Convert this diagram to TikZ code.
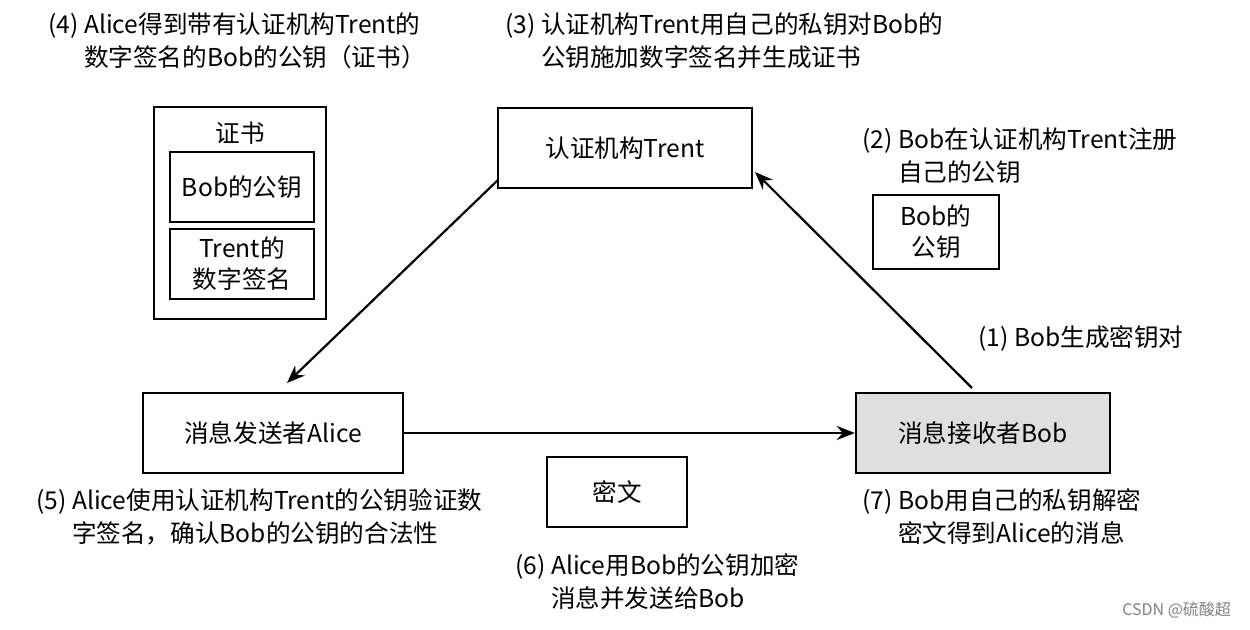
\documentclass[tikz,border=0pt]{standalone}
\usepackage{fontspec}
\setmainfont{Noto Sans CJK SC}
\usetikzlibrary{arrows.meta}
\begin{document}
\begin{tikzpicture}[x=0.5pt,y=-0.5pt,
  lbl/.style={anchor=north west,align=left,font=\fontsize{12.3}{16.5}\selectfont,inner sep=0pt},
  arr/.style={-{Stealth[length=9pt,width=7pt]},line width=1.1pt}]
\useasboundingbox (0,0) rectangle (1250,630);
\tikzset{every node/.append style={font=\fontsize{12.3}{15.5}\selectfont}}
\node[draw,line width=1.2pt,minimum width=127pt,minimum height=40pt] (trent) at (625,148) {认证机构Trent};
\node[draw,line width=1.2pt,minimum width=130pt,minimum height=40pt] (alice) at (273,433) {消息发送者Alice};
\node[draw,line width=1.2pt,fill=gray!25,minimum width=127pt,minimum height=40pt] (bob) at (983,433) {消息接收者Bob};
\node[draw,line width=1.2pt,minimum width=70pt,minimum height=35pt] (cipher) at (617,492) {密文};
\node[draw,line width=1.2pt,minimum width=63pt,minimum height=37pt,align=center] (bpk) at (936,232) {Bob的\\公钥};
\node[draw,line width=1.2pt,minimum width=86pt,minimum height=106pt] (cert) at (240,213) {};
\node (certt) at (240,133) {证书};
\node[draw,line width=1.2pt,minimum width=72pt,minimum height=35pt] (c1) at (242,187) {Bob的公钥};
\node[draw,line width=1.2pt,minimum width=72pt,minimum height=35pt,align=center] (c2) at (242,264) {Trent的\\数字签名};
\coordinate (ta) at (498,180);
\coordinate (aa) at (287,383);
\coordinate (bb) at (972,388);
\coordinate (tb) at (755,172);
\draw[arr] (ta) -- (aa);
\draw[arr] (bb) -- (tb);
\draw[arr] (alice) -- (bob);
\node[lbl] (l4) at (48,12) {(4) Alice得到带有认证机构Trent的\\\phantom{(4)} 数字签名的Bob的公钥（证书）};
\node[lbl] (l3) at (505,12) {(3) 认证机构Trent用自己的私钥对Bob的\\\phantom{(3)} 公钥施加数字签名并生成证书};
\node[lbl] (l2) at (862,127) {(2) Bob在认证机构Trent注册\\\phantom{(2)} 自己的公钥};
\node[lbl] (l1) at (978,325) {(1) Bob生成密钥对};
\node[lbl] (l5) at (36,488) {(5) Alice使用认证机构Trent的公钥验证数\\\phantom{(5)} 字签名，确认Bob的公钥的合法性};
\node[lbl] (l6) at (515,553) {(6) Alice用Bob的公钥加密\\\phantom{(6)} 消息并发送给Bob};
\node[lbl] (l7) at (862,488) {(7) Bob用自己的私钥解密\\\phantom{(7)} 密文得到Alice的消息};
\node[anchor=east,text=gray,font=\fontsize{8}{10}\selectfont] (csdn) at (1238,610) {CSDN @硫酸超};
\end{tikzpicture}
\end{document}
